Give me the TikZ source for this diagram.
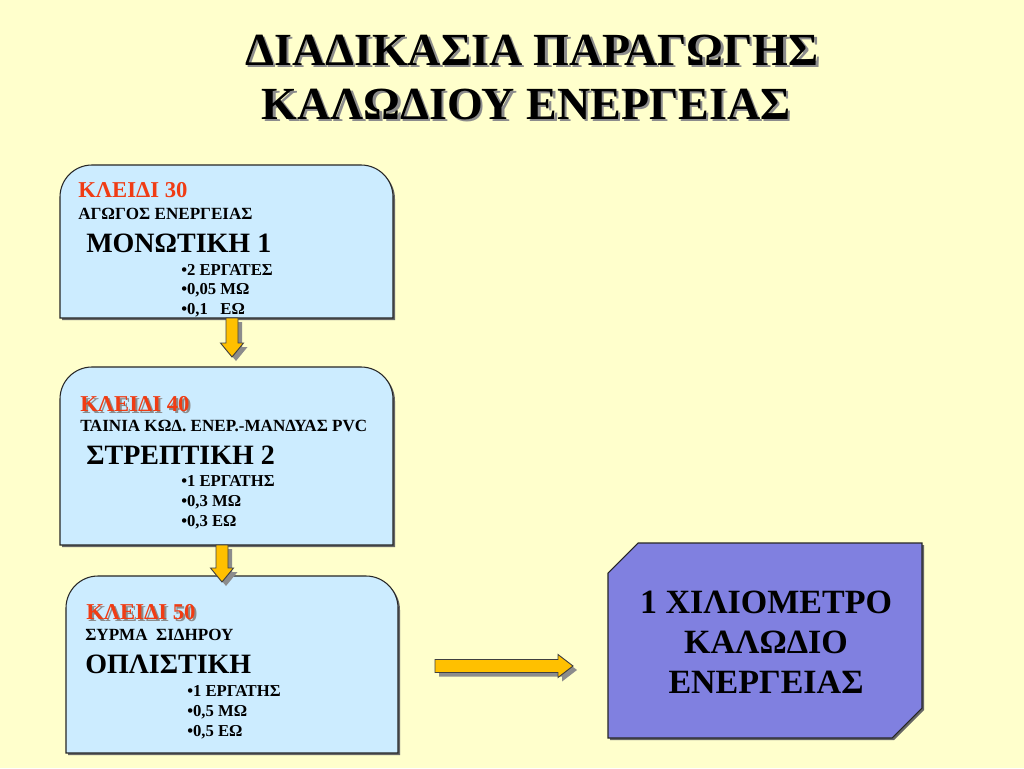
\documentclass[tikz,border=0pt]{standalone}
\usepackage{fontspec}
\setmainfont{Liberation Serif}
\usetikzlibrary{calc}
\definecolor{bgyellow}{RGB}{255,255,204}
\definecolor{boxblue}{RGB}{204,236,255}
\definecolor{boxviolet}{RGB}{128,128,224}
\definecolor{keyred}{RGB}{240,60,20}
\definecolor{arrowgold}{RGB}{255,192,0}
\definecolor{shadowgray}{RGB}{140,140,140}
\tikzset{
  area/.style={draw=none,inner sep=0pt,outer sep=0pt},
  lightbox/.style={fill=boxblue,draw=black!85,line width=0.8pt},
  boxshadow/.style={fill=black!60,draw=none},
  snipbox/.style={fill=boxviolet,draw=black!85,line width=0.8pt},
  blockarrow/.style={fill=arrowgold,draw=black!75,line width=0.7pt,line join=miter},
  arrowshadow/.style={fill=shadowgray,draw=none},
  txt/.style={anchor=west,inner sep=0pt,font=\bfseries},
  keytxt/.style={txt,text=keyred,font=\bfseries\fontsize{17}{20}\selectfont},
  keyshadow/.style={txt,text=shadowgray,font=\bfseries\fontsize{17}{20}\selectfont},
  subtxt/.style={txt,font=\bfseries\fontsize{12.8}{15}\selectfont},
  bigtxt/.style={txt,font=\bfseries\fontsize{21}{24}\selectfont},
  bullettxt/.style={txt,font=\bfseries\fontsize{12.5}{15}\selectfont},
  titletxt/.style={inner sep=0pt,font=\bfseries\fontsize{34.5}{40}\selectfont},
  resulttxt/.style={inner sep=0pt,align=center,font=\bfseries\fontsize{25.5}{30}\selectfont}
}
\newcommand{\roundtopbox}[2]{%
  \path[#2] (#1.south west) -- ([yshift=-24pt]#1.north west)
    arc[start angle=180,end angle=90,radius=24pt]
    -- ([xshift=-24pt]#1.north east)
    arc[start angle=90,end angle=0,radius=24pt]
    -- (#1.south east) -- cycle;}
\newcommand{\snipshape}[2]{%
  \path[#2] ([xshift=22.5pt]#1.north west) -- (#1.north east)
    -- ([yshift=22.5pt]#1.south east) -- ([xshift=-22.5pt]#1.south east)
    -- (#1.south west) -- ([yshift=-22.5pt]#1.north west) -- cycle;}
% vertical block arrow from #1 down to #2
\newcommand{\downblock}[3]{%
  \path[#3] ($(#1)+(-6,0)$) -- ($(#2)+(-6,-14)$) -- ($(#2)+(-11.5,-14)$)
    -- (#2) -- ($(#2)+(11.5,-14)$) -- ($(#2)+(6,-14)$) -- ($(#1)+(6,0)$) -- cycle;}
% horizontal block arrow from #1 right to #2
\newcommand{\rightblock}[3]{%
  \path[#3] ($(#1)+(0,-6.5)$) -- ($(#2)+(-15,-6.5)$) -- ($(#2)+(-15,-11.5)$)
    -- (#2) -- ($(#2)+(-15,11.5)$) -- ($(#2)+(-15,6.5)$) -- ($(#1)+(0,6.5)$) -- cycle;}
\begin{document}
\begin{tikzpicture}[x=0.75pt,y=-0.75pt]
\fill[bgyellow] (0,0) rectangle (1024,768);
\useasboundingbox (0,0) rectangle (1024,768);

% title
\node[titletxt,text=shadowgray] (t1s) at (534.5,52.5) {ΔΙΑΔΙΚΑΣΙΑ ΠΑΡΑΓΩΓΗΣ};
\node[titletxt] (t1) at (532,50) {ΔΙΑΔΙΚΑΣΙΑ ΠΑΡΑΓΩΓΗΣ};
\node[titletxt,text=shadowgray] (t2s) at (528.5,106.5) {ΚΑΛΩΔΙΟΥ ΕΝΕΡΓΕΙΑΣ};
\node[titletxt] (t2) at (526,104) {ΚΑΛΩΔΙΟΥ ΕΝΕΡΓΕΙΑΣ};

% box areas
\node[area,minimum width=249.75pt,minimum height=114.75pt] (b1) at (226.5,241.5) {};
\node[area,minimum width=249.75pt,minimum height=133.5pt] (b2) at (226.5,456) {};
\node[area,minimum width=249pt,minimum height=132.75pt] (b3) at (232,664.5) {};
\node[area,minimum width=235.5pt,minimum height=146.25pt] (r) at (765,640.5) {};

% shadows and boxes
\begin{scope}[transform canvas={shift={(1.5pt,-1.5pt)}}]
  \roundtopbox{b1}{boxshadow}
  \roundtopbox{b2}{boxshadow}
  \roundtopbox{b3}{boxshadow}
  \snipshape{r}{boxshadow}
\end{scope}
\roundtopbox{b1}{lightbox}
\roundtopbox{b2}{lightbox}
\roundtopbox{b3}{lightbox}
\snipshape{r}{snipbox}

% arrow anchor points
\coordinate (a1s) at ($(b1.south)+(5.5,0)$);
\coordinate (a1e) at ($(b2.north)+(5.5,-10)$);
\coordinate (a2s) at ($(b2.south)+(-4.5,0)$);
\coordinate (a2e) at ($(b3.north)+(-10,6)$);
\coordinate (a3s) at ($(b3.east)+(37,1.5)$);
\coordinate (a3e) at ($(r.west)+(-35,25.5)$);

\begin{scope}[transform canvas={shift={(3pt,-3pt)}}]
  \downblock{a1s}{a1e}{arrowshadow}
  \downblock{a2s}{a2e}{arrowshadow}
  \rightblock{a3s}{a3e}{arrowshadow}
\end{scope}
\downblock{a1s}{a1e}{blockarrow}
\downblock{a2s}{a2e}{blockarrow}
\rightblock{a3s}{a3e}{blockarrow}

% box 1 text
\node[keytxt] (k1) at (78,190) {ΚΛΕΙΔΙ 30};
\node[subtxt] (s1) at (78,214) {ΑΓΩΓΟΣ ΕΝΕΡΓΕΙΑΣ};
\node[bigtxt] (m1) at (86,243) {ΜΟΝΩΤΙΚΗ 1};
\node[bullettxt] (p11) at (181,270) {•2 ΕΡΓΑΤΕΣ};
\node[bullettxt] (p12) at (181,290) {•0,05 ΜΩ};
\node[bullettxt] (p13) at (181,310) {•0,1\ \ \ ΕΩ};

% box 2 text
\node[keyshadow] (k2s) at (82,406) {ΚΛΕΙΔΙ 40};
\node[keytxt] (k2) at (80,404) {ΚΛΕΙΔΙ 40};
\node[subtxt] (s2) at (80,426) {ΤΑΙΝΙΑ ΚΩΔ. ΕΝΕΡ.-ΜΑΝΔΥΑΣ PVC};
\node[bigtxt] (m2) at (86,455) {ΣΤΡΕΠΤΙΚΗ 2};
\node[bullettxt] (p21) at (181,481) {•1 ΕΡΓΑΤΗΣ};
\node[bullettxt] (p22) at (181,502) {•0,3 ΜΩ};
\node[bullettxt] (p23) at (181,522) {•0,3 ΕΩ};

% box 3 text
\node[keyshadow] (k3s) at (88,614) {ΚΛΕΙΔΙ 50};
\node[keytxt] (k3) at (86,612) {ΚΛΕΙΔΙ 50};
\node[subtxt] (s3) at (85,635) {ΣΥΡΜΑ\ \ ΣΙΔΗΡΟΥ};
\node[bigtxt] (m3) at (85,664) {ΟΠΛΙΣΤΙΚΗ};
\node[bullettxt] (p31) at (187,691) {•1 ΕΡΓΑΤΗΣ};
\node[bullettxt] (p32) at (187,712) {•0,5 ΜΩ};
\node[bullettxt] (p33) at (187,732) {•0,5 ΕΩ};

% result box text
\node[resulttxt] (rt) at (766,642) {1 ΧΙΛΙΟΜΕΤΡΟ\\ΚΑΛΩΔΙΟ\\ΕΝΕΡΓΕΙΑΣ};
\end{tikzpicture}
\end{document}
